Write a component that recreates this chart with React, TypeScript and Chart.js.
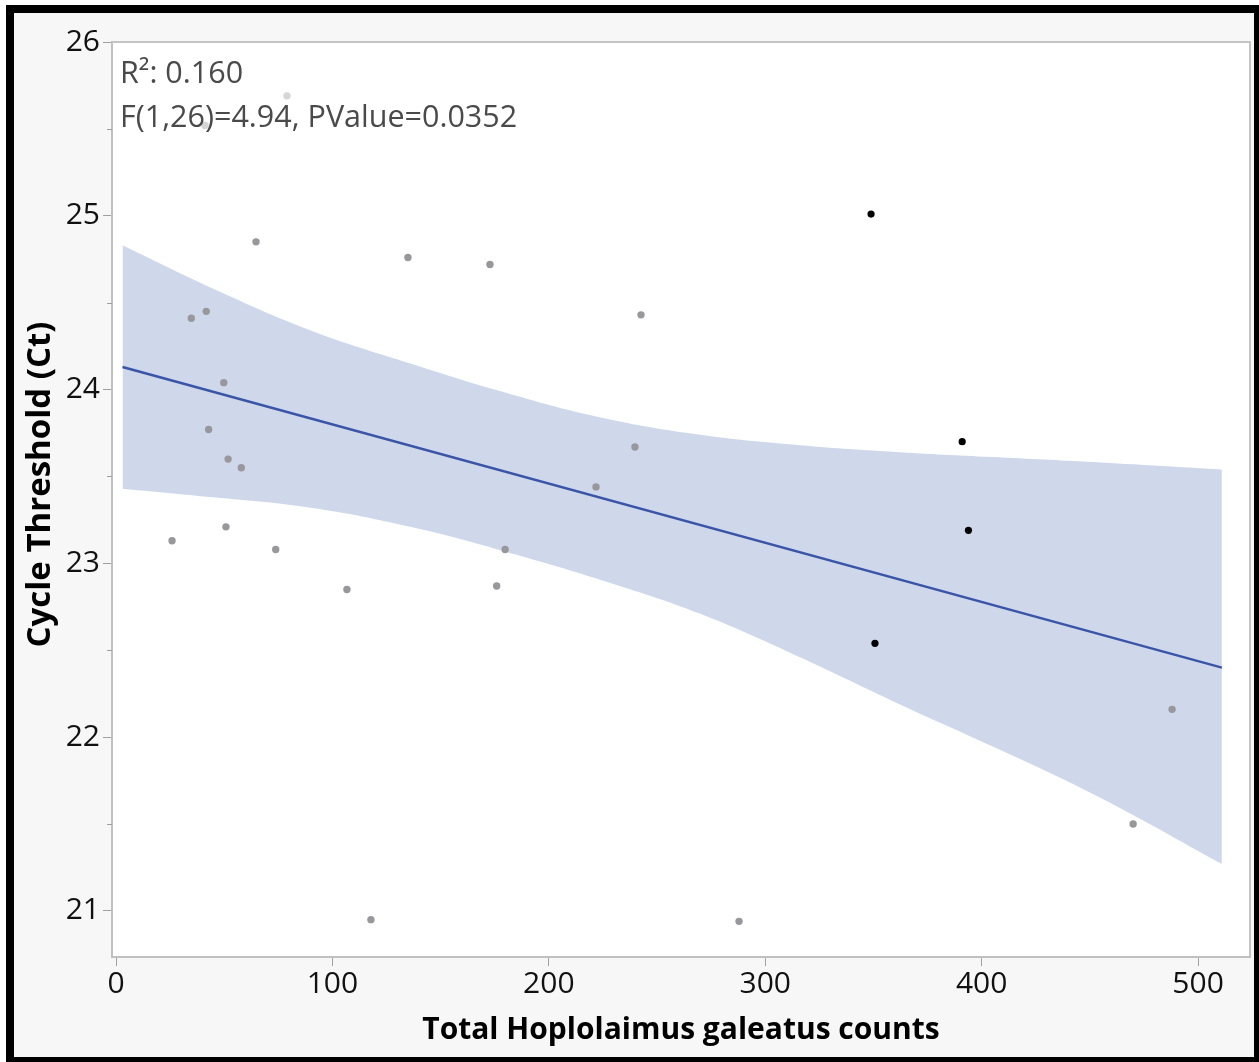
import React, { useEffect, useRef } from 'react';
import { Chart, registerables } from 'chart.js';

Chart.register(...registerables);

// Gray (unselected) observations
const grayX = [25.9, 34.8, 41.7, 42.8, 49.8, 51.8, 50.8, 57.9, 64.7, 79.0, 41.1, 73.8, 106.7, 117.8, 134.9, 172.8, 175.9, 179.8, 221.8, 239.8, 242.6, 287.9, 470.0, 488.0];
const grayY = [23.13, 24.41, 24.45, 23.77, 24.04, 23.60, 23.21, 23.55, 24.85, 25.69, 25.52, 23.08, 22.85, 20.95, 24.76, 24.72, 22.87, 23.08, 23.44, 23.67, 24.43, 20.94, 21.50, 22.16];
// Black (selected) observations
const blackX = [348.9, 350.7, 391.0, 393.9];
const blackY = [25.01, 22.54, 23.70, 23.19];

// Fit line and confidence band
const fitX = [3, 511];
const fitY = [24.13, 22.40];
const bandX = [3, 45, 90, 136, 182, 224, 270, 316, 362, 408, 455, 511];
const bandUpper = [24.83, 24.58, 24.34, 24.15, 23.975, 23.84, 23.74, 23.68, 23.64, 23.61, 23.58, 23.54];
const bandLower = [23.43, 23.38, 23.32, 23.21, 23.06, 22.905, 22.71, 22.46, 22.19, 21.93, 21.65, 21.27];

const xTicks = [0, 100, 200, 300, 400, 500];
const yTicks = [21, 22, 23, 24, 25, 26];
const yMinorTicks = [21.5, 22.5, 23.5, 24.5, 25.5];
const statLines = ['R²: 0.160', 'F(1,26)=4.94, PValue=0.0352'];
const xTitle = 'Total Hoplolaimus galeatus counts';
const yTitle = 'Cycle Threshold (Ct)';

const FONT = '"Open Sans", "Noto Sans", sans-serif';

const pts = (xs: number[], ys: number[]) => xs.map((x, i) => ({ x, y: ys[i] }));

const framePlugin = {
  id: 'framePlugin',
  beforeDraw(chart: any) {
    const { ctx, chartArea: a } = chart;
    ctx.save();
    ctx.fillStyle = '#ffffff';
    ctx.fillRect(a.left, a.top, a.right - a.left, a.bottom - a.top);
    ctx.restore();
  },
  afterDatasetsDraw(chart: any) {
    const { ctx, chartArea: a } = chart;
    ctx.save();
    ctx.font = `30.5px ${FONT}`;
    const x0 = a.left + 8;
    const b1 = a.top + 41;
    const b2 = a.top + 85;
    const w = Math.max(...statLines.map((s) => ctx.measureText(s).width));
    ctx.fillStyle = 'rgba(255,255,255,0.6)';
    ctx.fillRect(x0 - 3, a.top + 12, w + 6, 84);
    ctx.fillStyle = '#4a4a4a';
    ctx.textBaseline = 'alphabetic';
    ctx.textAlign = 'left';
    ctx.fillText(statLines[0], x0, b1);
    ctx.fillText(statLines[1], x0, b2);
    ctx.restore();
  },
  afterDraw(chart: any) {
    const { ctx, chartArea: a, scales } = chart;
    ctx.save();
    ctx.strokeStyle = '#c4c4c4';
    ctx.lineWidth = 2;
    ctx.beginPath();
    ctx.moveTo(a.left, a.top);
    ctx.lineTo(a.right, a.top);
    ctx.lineTo(a.right, a.bottom);
    ctx.stroke();
    ctx.strokeStyle = '#a0a0a0';
    ctx.lineWidth = 1;
    yMinorTicks.forEach((v) => {
      const y = Math.round(scales.y.getPixelForValue(v)) + 0.5;
      ctx.beginPath();
      ctx.moveTo(a.left - 5, y);
      ctx.lineTo(a.left, y);
      ctx.stroke();
    });
    // y axis title
    ctx.translate(27, (a.top + a.bottom) / 2 - 15);
    ctx.rotate(-Math.PI / 2);
    ctx.font = `bold 33px ${FONT}`;
    ctx.fillStyle = '#000000';
    ctx.textAlign = 'center';
    ctx.textBaseline = 'middle';
    ctx.fillText(yTitle, 0, 0);
    ctx.restore();
  },
};

export default function App() {
  const ref = useRef<HTMLCanvasElement>(null);
  useEffect(() => {
    if (!ref.current) return;
    const chart = new Chart(ref.current, {
      type: 'scatter',
      data: {
        datasets: [
          {
            type: 'scatter',
            data: pts(blackX, blackY),
            backgroundColor: '#000000',
            borderWidth: 0,
            pointRadius: 3.6,
            order: 0,
          } as any,
          {
            type: 'scatter',
            data: pts(grayX, grayY),
            backgroundColor: '#98989c',
            borderWidth: 0,
            pointRadius: 3.7,
            order: 1,
          } as any,
          {
            type: 'line',
            data: pts(fitX, fitY),
            borderColor: '#3a55a8',
            borderWidth: 2.5,
            pointRadius: 0,
            fill: false,
            order: 2,
          } as any,
          {
            type: 'line',
            data: pts(bandX, bandUpper),
            borderWidth: 0,
            borderColor: 'rgba(0,0,0,0)',
            backgroundColor: '#cfd8ea',
            pointRadius: 0,
            tension: 0.4,
            fill: '+1',
            order: 3,
          } as any,
          {
            type: 'line',
            data: pts(bandX, bandLower),
            borderWidth: 0,
            borderColor: 'rgba(0,0,0,0)',
            pointRadius: 0,
            tension: 0.4,
            fill: false,
            order: 4,
          } as any,
        ],
      },
      options: {
        animation: false,
        responsive: false,
        layout: { padding: { top: 29, right: 4, left: 0, bottom: 0 } },
        plugins: {
          legend: { display: false },
          tooltip: { enabled: false },
        },
        scales: {
          x: {
            type: 'linear',
            min: -1.85,
            max: 524,
            afterBuildTicks: (s: any) => {
              s.ticks = xTicks.map((v) => ({ value: v }));
            },
            afterFit: (s: any) => {
              s.height = 100;
            },
            ticks: {
              font: { family: FONT, size: 30 },
              color: '#111111',
              padding: 0,
              maxRotation: 0,
              autoSkip: false,
            },
            grid: {
              drawOnChartArea: false,
              drawTicks: true,
              tickLength: 9,
              tickColor: '#a0a0a0',
              tickWidth: 1,
            },
            border: { display: true, color: '#c0c0c0', width: 2 },
            title: {
              display: true,
              text: xTitle,
              font: { family: FONT, size: 30, weight: 'bold' },
              color: '#000000',
              padding: { top: 0, bottom: 9 },
            },
          },
          y: {
            type: 'linear',
            min: 20.735,
            max: 26,
            afterBuildTicks: (s: any) => {
              s.ticks = yTicks.map((v) => ({ value: v }));
            },
            afterFit: (s: any) => {
              s.width = 98;
            },
            ticks: {
              font: { family: FONT, size: 30 },
              color: '#111111',
              padding: 3,
              autoSkip: false,
            },
            grid: {
              drawOnChartArea: false,
              drawTicks: true,
              tickLength: 9,
              tickColor: '#a0a0a0',
              tickWidth: 1,
            },
            border: { display: true, color: '#c0c0c0', width: 2 },
            title: { display: false },
          },
        },
      },
      plugins: [framePlugin],
    });
    return () => chart.destroy();
  }, []);

  return (
    <div style={{ position: 'absolute', left: 0, top: 0, width: 1259, height: 1062, background: '#ffffff' }}>
      <div
        style={{
          position: 'absolute',
          left: 6,
          top: 5,
          width: 1253,
          height: 1057,
          boxSizing: 'border-box',
          borderStyle: 'solid',
          borderColor: '#000000',
          borderWidth: '8px 5px 5px 8px',
          background: '#f7f7f7',
        }}
      >
        <canvas ref={ref} width={1240} height={1044} style={{ display: 'block', width: 1240, height: 1044 }} />
      </div>
    </div>
  );
}
